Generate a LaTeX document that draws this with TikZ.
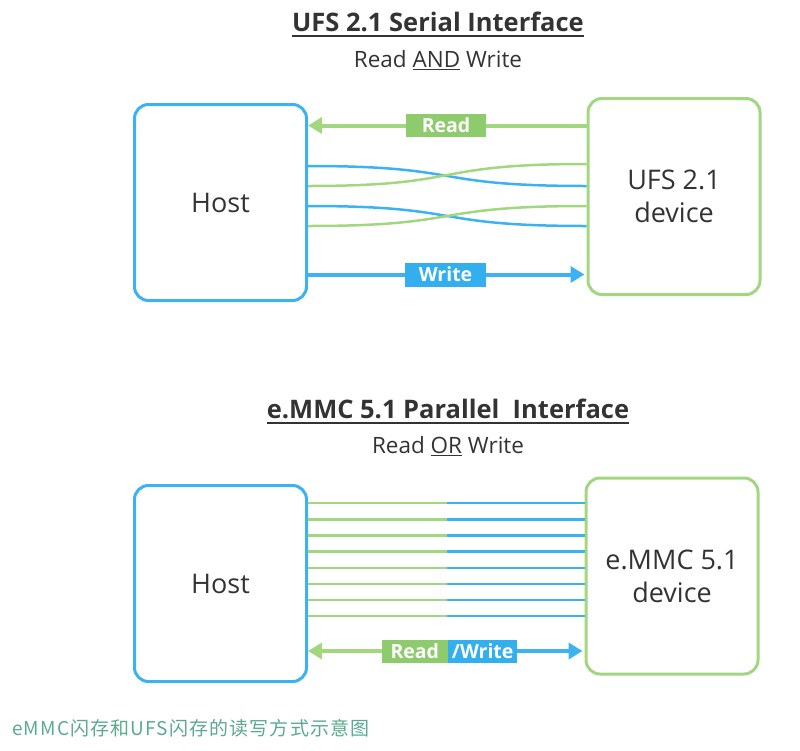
\documentclass[tikz,border=0pt]{standalone}
\usepackage{fontspec}
\setmainfont{Open Sans}
\newfontfamily\cjk[LetterSpace=6]{Noto Sans CJK SC}
\usetikzlibrary{arrows.meta,calc}
\definecolor{ublue}{HTML}{3DB2F2}
\definecolor{ugreen}{HTML}{A3D77F}
\definecolor{lgreen}{HTML}{8DCB6C}
\definecolor{lblue}{HTML}{33AEEE}
\definecolor{txt}{HTML}{333333}
\definecolor{capc}{HTML}{5AAA8C}
\begin{document}
\begin{tikzpicture}[x=1pt,y=-1pt,
  box/.style={line width=3pt, rounded corners=14pt, minimum width=172pt, minimum height=196pt,
    font=\fontsize{27}{33}\selectfont, text=txt, align=center, inner sep=0pt},
  hostbox/.style={box, draw=ublue},
  devbox/.style={box, draw=ugreen},
  title/.style={font=\bfseries\fontsize{25.5}{30}\selectfont, text=txt, inner sep=0pt},
  subtitle/.style={font=\fontsize{22.5}{26}\selectfont, text=txt, inner sep=0pt},
  garrow/.style={draw=ugreen, line width=4pt, -{Triangle[length=14pt,width=16pt]}},
  barrow/.style={draw=ublue, line width=4pt, -{Triangle[length=14pt,width=16pt]}},
  gwire/.style={draw=ugreen, line width=2.5pt},
  bwire/.style={draw=ublue, line width=2.5pt},
  glabel/.style={fill=lgreen, text=white, font=\bfseries\fontsize{19.5}{22}\selectfont, inner sep=0pt, minimum height=23pt},
  blabel/.style={fill=lblue, text=white, font=\bfseries\fontsize{19.5}{22}\selectfont, inner sep=0pt, minimum height=24pt},
  uline/.style={draw=txt, line width=1.8pt}
]
\useasboundingbox (0,0) rectangle (800,750);

% ---------- top: UFS ----------
\node[title] (t1) at (438,22) {UFS 2.1 Serial Interface};
\draw[uline] ($(t1.south west)+(0,4)$) -- ($(t1.south east)+(0,4)$);
\node[subtitle] (s1) at (438,60) {Read \underline{AND} Write};

\node[hostbox] (host1) at (220.5,202.5) {Host};
\node[devbox] (dev1) at (674,196.5) {UFS 2.1\\device};

% read arrow
\coordinate (ry) at (446,125.5);
\draw[garrow] (dev1.west |- ry) -- (host1.east |- ry);
\node[glabel, minimum width=80pt] (rl) at (ry) {Read};

% serial wires
\coordinate (w1a) at (host1.east |- 0,166);
\coordinate (w1b) at (dev1.west |- 0,186);
\coordinate (w2a) at (host1.east |- 0,186);
\coordinate (w2b) at (dev1.west |- 0,164);
\coordinate (w3a) at (host1.east |- 0,206);
\coordinate (w3b) at (dev1.west |- 0,226);
\coordinate (w4a) at (host1.east |- 0,226);
\coordinate (w4b) at (dev1.west |- 0,206);
\draw[bwire] (w1a) .. controls +(160,0) and +(-160,0) .. (w1b);
\draw[gwire] (w2a) .. controls +(160,0) and +(-160,0) .. (w2b);
\draw[bwire] (w3a) .. controls +(160,0) and +(-160,0) .. (w3b);
\draw[gwire] (w4a) .. controls +(160,0) and +(-160,0) .. (w4b);

% write arrow
\coordinate (wy) at (445.5,274.5);
\draw[barrow] (host1.east |- wy) -- ($(dev1.west |- wy)+(-2,0)$);
\node[blabel, minimum width=81pt] (wl) at (wy) {Write};

% ---------- bottom: eMMC ----------
\node[title] (t2) at (448,409) {e.MMC 5.1 Parallel\ \ Interface};
\draw[uline] ($(t2.south west)+(0,4)$) -- ($(t2.south east)+(0,4)$);
\node[subtitle] (s2) at (448,446) {Read \underline{OR} Write};

\node[hostbox] (host2) at (220.5,583.5) {Host};
\node[devbox] (dev2) at (672,576) {e.MMC 5.1\\device};

% parallel lines
\foreach \y [count=\i] in {503,519.5,535.5,551.5,568,584,600,616}{
  \coordinate (m\i) at (447,\y);
  \draw[gwire] (host2.east |- m\i) -- (m\i);
  \draw[bwire] (m\i) -- (dev2.west |- m\i);
}

% read/write arrow
\coordinate (rw) at (448,651);
\draw[garrow] (rw) -- (host2.east |- rw);
\draw[barrow] (rw) -- ($(dev2.west |- rw)+(-2,0)$);
\node[glabel, minimum width=66pt, anchor=east] (rwl) at (rw) {Read};
\node[blabel, minimum width=69pt, minimum height=23pt, anchor=west] (rwr) at (rw) {/Write};

% caption
\node[anchor=west, text=capc, font=\cjk\fontsize{19}{22}\selectfont, inner sep=0pt] (cap) at (12,728) {eMMC闪存和UFS闪存的读写方式示意图};
\end{tikzpicture}
\end{document}
